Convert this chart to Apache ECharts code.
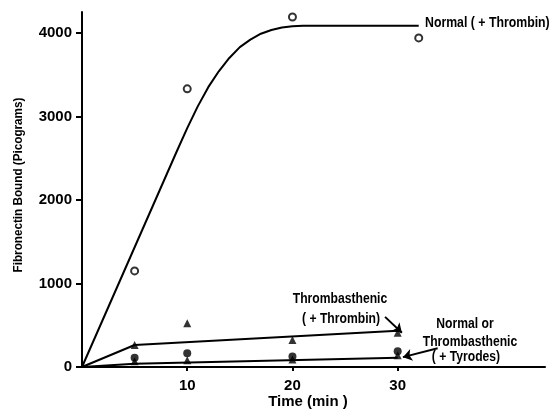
<!DOCTYPE html>
<html><head><meta charset="utf-8">
<script src="https://cdn.jsdelivr.net/npm/echarts@6/dist/echarts.min.js"></script>
<style>html,body{margin:0;padding:0;background:#fff}#c{width:552px;height:413px}</style>
</head><body><div id="c"></div>
<script>
// Data: [time (min), fibronectin bound (pg)]
const normalThrombinPts = [[5,1150],[10,3330],[20,4190],[32,3940]];
const normalThrombinCurve = [[0,0],[9,2580],[10,2860],[11,3120],[12,3350],[13,3540],[14,3700],[15,3830],[16,3920],[17,3990],[18,4035],[19,4065],[20,4080],[21,4086],[32,4086]];
const thromThrombinPts = [[5,263],[10,525],[20,322],[30,410]];
const thromThrombinLine = [[0,0],[5,263],[30,435]];
const tyrodesCircles = [[5,110],[10,165],[20,125],[30,190]];
const tyrodesTriangles = [[5,70],[10,80],[20,90],[30,140]];
const tyrodesLine = [[0,0],[5,40],[30,112]];
const xTicks = [10,20,30];
const yTicks = [0,1000,2000,3000,4000];
const arrow1 = [[28.8,600],[30.4,410]];
const arrow2 = [[33.8,225],[30.5,118]];

const F = '"Liberation Sans","Arial",sans-serif';
const chart = echarts.init(document.getElementById('c'));
const lineStyle = {color:'#000', width:2};
function txt(text, x, y, size, sx, extra){
  return Object.assign({type:'text', x:x, y:y, scaleX:sx, scaleY:1,
    style:{text:text, font:'bold '+size+'px '+F, fill:'#000', align:'center', verticalAlign:'middle'}}, extra||{});
}
chart.setOption({
  animation:false,
  backgroundColor:'#fff',
  grid:{left:82,right:7,top:12,bottom:46},
  xAxis:{type:'value',min:0,max:44,
    axisLine:{lineStyle:{color:'#000',width:2}},
    axisTick:{customValues:xTicks,length:4,lineStyle:{color:'#000',width:2}},
    axisLabel:{customValues:xTicks,color:'#000',fontFamily:F,fontWeight:'bold',fontSize:15,margin:11,
      formatter:function(v){return String(v);}},
    splitLine:{show:false}},
  yAxis:{type:'value',min:0,max:4250,
    axisLine:{show:true,lineStyle:{color:'#000',width:2}},
    axisTick:{show:true,customValues:yTicks,length:6,lineStyle:{color:'#000',width:2}},
    axisLabel:{customValues:yTicks,color:'#000',fontFamily:F,fontWeight:'bold',fontSize:15,margin:10,
      formatter:function(v){return String(v);}},
    splitLine:{show:false}},
  series:[
    {type:'line',data:normalThrombinCurve,showSymbol:false,lineStyle:lineStyle,silent:true},
    {type:'scatter',data:normalThrombinPts,symbol:'circle',symbolSize:7,
     itemStyle:{color:'#fff',borderColor:'#000',borderWidth:2}},
    {type:'line',data:thromThrombinLine,showSymbol:false,lineStyle:lineStyle,
     markLine:{silent:true,symbol:['none','arrow'],symbolSize:9,label:{show:false},
       lineStyle:{color:'#000',width:2,type:'solid'},
       data:[[{coord:arrow1[0]},{coord:arrow1[1]}],[{coord:arrow2[0]},{coord:arrow2[1]}]]}},
    {type:'scatter',data:thromThrombinPts,symbol:'triangle',symbolSize:8,itemStyle:{color:'#000'}},
    {type:'line',data:tyrodesLine,showSymbol:false,lineStyle:lineStyle},
    {type:'scatter',data:tyrodesCircles,symbol:'circle',symbolSize:8,itemStyle:{color:'#000'}},
    {type:'scatter',data:tyrodesTriangles,symbol:'triangle',symbolSize:8,itemStyle:{color:'#000'}}
  ],
  graphic:[
    txt('Fibronectin Bound (Picograms)', 18, 185, 13, 0.9, {rotation:Math.PI/2}),
    txt('Time (min )', 308, 402, 15, 1),
    {type:'text', x:425, y:23, scaleX:0.82, style:{text:'Normal ( + Thrombin)', font:'bold 15px '+F, fill:'#000', align:'left', verticalAlign:'middle'}},
    txt('Thrombasthenic', 340, 299, 15, 0.81),
    txt('( + Thrombin)', 341, 319, 15, 0.81),
    txt('Normal or', 465, 324, 15, 0.81),
    txt('Thrombasthenic', 470, 342, 15, 0.81),
    txt('( + Tyrodes)', 466, 357, 15, 0.81)
  ]
});
</script></body></html>
